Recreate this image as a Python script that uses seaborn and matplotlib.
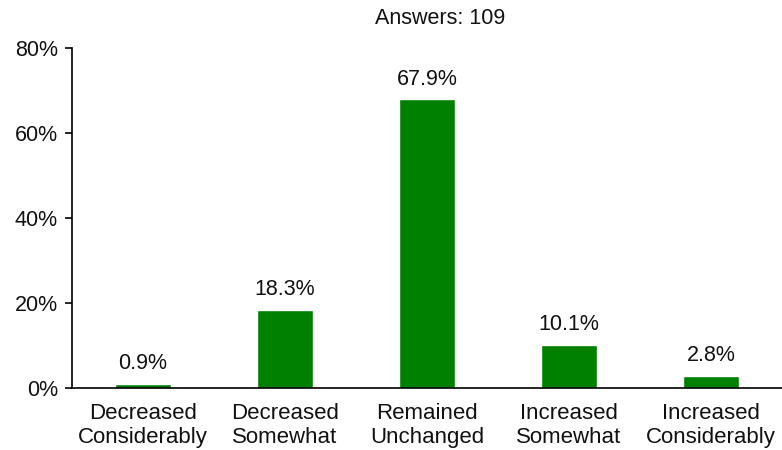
import matplotlib
matplotlib.use("Agg")
import matplotlib.pyplot as plt
import seaborn as sns
import pandas as pd
from matplotlib.ticker import FuncFormatter

categories = ["Decreased\nConsiderably", "Decreased\nSomewhat", "Remained\nUnchanged",
              "Increased\nSomewhat", "Increased\nConsiderably"]
shares = [0.9, 18.3, 67.9, 10.1, 2.8]
title = "Answers: 109"

sns.set_theme(style="white")
plt.rcParams["font.family"] = ["Liberation Sans", "DejaVu Sans"]

df = pd.DataFrame({"category": categories, "share": shares})

fig = plt.figure(figsize=(7.82, 4.5), dpi=100)
ax = fig.add_axes([72 / 782, 1 - 388 / 450, 710 / 782, 340 / 450])

sns.barplot(data=df, x="category", y="share", color="#008000", saturation=1,
            width=0.4, ax=ax)

for i, v in enumerate(shares):
    ax.text(i, v + 2.3, f"{v:.1f}%", ha="center", va="bottom", fontsize=15.5, color="#111111")

ax.set_xlim(-0.5, 4.5)
ax.set_ylim(0, 80)
ax.set_yticks([0, 20, 40, 60, 80])
ax.yaxis.set_major_formatter(FuncFormatter(lambda v, _: f"{v:.0f}%"))
ax.set_xlabel("")
ax.set_ylabel("")
ax.tick_params(axis="y", left=True, length=5, width=1.2, color="black", labelsize=15.5,
               labelcolor="#111111", pad=5)
ax.tick_params(axis="x", bottom=False, labelsize=16, labelcolor="#111111", pad=5)
for lbl in ax.get_xticklabels():
    lbl.set_linespacing(1.15)
for s in ["top", "right"]:
    ax.spines[s].set_visible(False)
for s in ["left", "bottom"]:
    ax.spines[s].set_color("black")
    ax.spines[s].set_linewidth(1.2)

fig.text(440 / 782, 1 - 18 / 450, title, ha="center", va="center", fontsize=15.5, color="#111111")

fig.savefig("out.png", dpi=100)
